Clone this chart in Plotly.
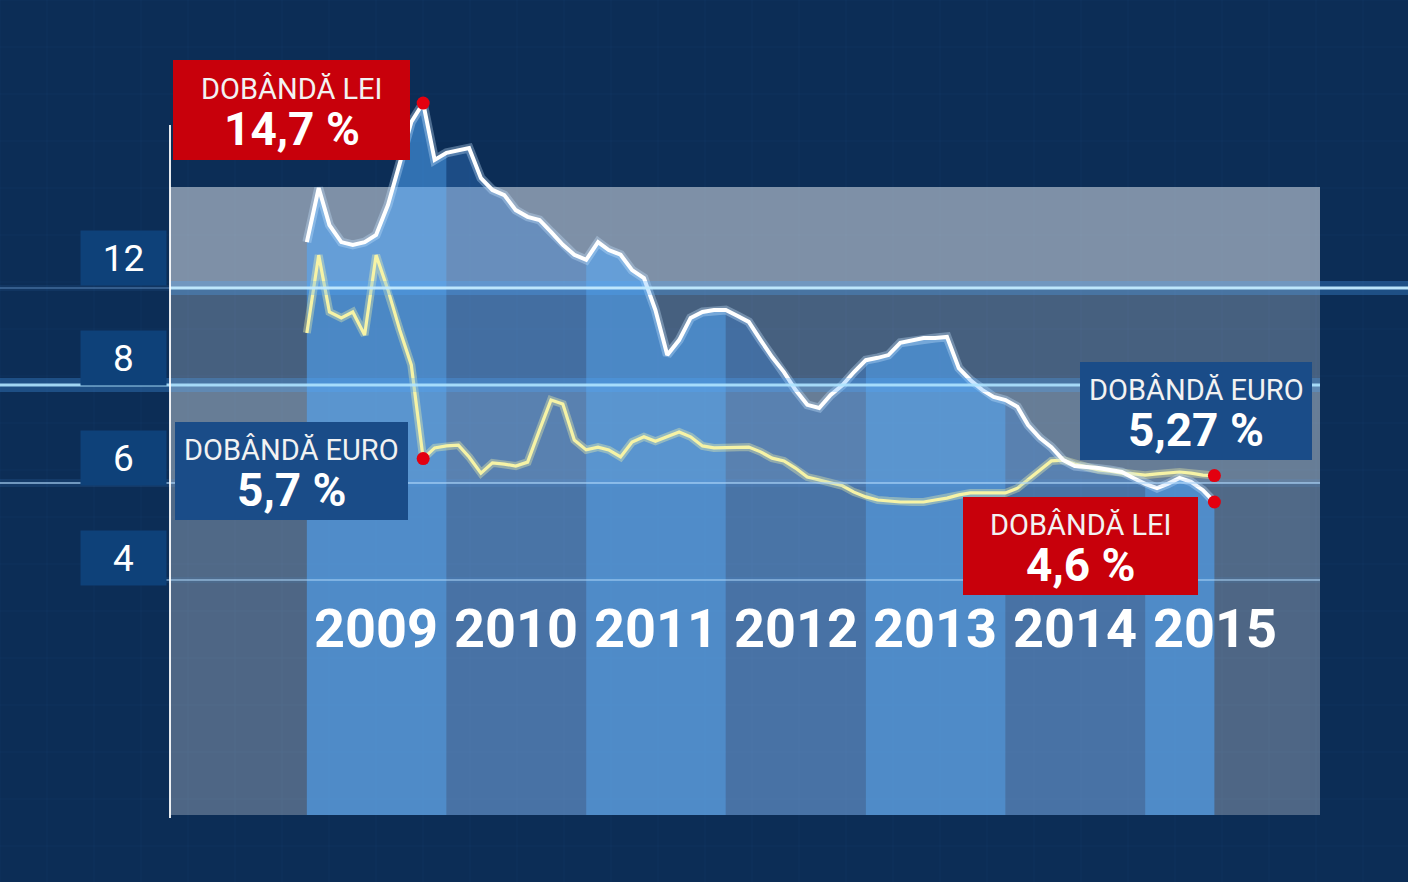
import plotly.graph_objects as go

W, H = 1408, 882

# ---------------- data ----------------
MONTHS = [f"{y}-{m:02d}-01" for y in range(2009, 2016) for m in range(1, 13)][:79]

LEI = [11.18, 12.55, 11.61, 11.18, 11.11, 11.18, 11.36, 12.12, 13.18, 14.22,
       14.70, 13.26, 13.44, 13.51, 13.56, 12.80, 12.50, 12.37, 11.99, 11.82,
       11.74, 11.44, 11.11, 10.86, 10.73, 11.18, 10.98, 10.86, 10.47, 10.27,
       9.46, 8.32, 8.70, 9.26, 9.41, 9.46, 9.46, 9.31, 9.16, 8.70,
       8.27, 7.89, 7.44, 7.06, 6.98, 7.31, 7.56, 7.89, 8.19, 8.25,
       8.32, 8.63, 8.68, 8.75, 8.75, 8.78, 7.99, 7.69, 7.44, 7.26,
       7.18, 7.01, 6.55, 6.22, 5.99, 5.66, 5.51, 5.49, 5.46, 5.41,
       5.36, 5.21, 5.06, 4.95, 5.06, 5.21, 5.11, 4.90, 4.60]

EURO = [8.88, 10.85, 9.41, 9.26, 9.41, 8.83, 10.85, 9.97, 8.95, 8.07,
        5.70, 5.97, 6.02, 6.04, 5.74, 5.33, 5.59, 5.56, 5.51, 5.61,
        6.42, 7.18, 7.08, 6.17, 5.92, 5.99, 5.92, 5.74, 6.12, 6.25,
        6.14, 6.25, 6.37, 6.25, 6.02, 5.97, 5.97, 5.99, 5.99, 5.87,
        5.71, 5.64, 5.46, 5.23, 5.16, 5.08, 5.01, 4.85, 4.73, 4.65,
        4.63, 4.60, 4.60, 4.60, 4.65, 4.70, 4.78, 4.83, 4.83, 4.83,
        4.83, 4.95, 5.16, 5.41, 5.64, 5.66, 5.56, 5.49, 5.41, 5.38,
        5.33, 5.31, 5.28, 5.31, 5.33, 5.36, 5.33, 5.28, 5.27]

YEARS = ["2009", "2010", "2011", "2012", "2013", "2014", "2015"]
Y_TICK_LABELS = ["12", "8", "6", "4"]

CALLOUT_TITLES = ["DOBÂNDĂ LEI", "DOBÂNDĂ EURO", "DOBÂNDĂ EURO", "DOBÂNDĂ LEI"]
CALLOUT_SERIES = ["lei", "euro", "euro", "lei"]
CALLOUT_INDEX = [10, 10, 78, 78]

# ---------------- layout constants ----------------
X_RANGE = ["2006-10-22", "2016-11-18"]
Y_RANGE = [-5.02, 17.309]
PANEL = (170, 187, 1320, 815)  # left, top, right, bottom in px
BANDS = [(187, 288, 0.50), (288, 385, 0.26), (385, 483, 0.40), (483, 580, 0.30), (580, 815, 0.29)]
BOXES = [(173, 60, 410, 160), (175, 422, 408, 520), (1080, 362, 1312, 460), (963, 497, 1198, 595)]
BOX_COLORS = ["#c8000b", "#1a4c88", "#1a4c88", "#c8000b"]
BRIGHT_COL = "rgba(80,170,255,0.55)"
DARK_COL = "rgba(60,140,230,0.33)"
FONT = "Roboto, 'Open Sans', Arial, sans-serif"


def pxx(x):
    return x / W


def pxy(y):
    return 1 - y / H


def val_at_py(y):
    return Y_RANGE[1] - y / H * (Y_RANGE[1] - Y_RANGE[0])


BASE = val_at_py(PANEL[3])

fig = go.Figure()

# --- column fills under the LEI curve, one per year ---
for k, yr in enumerate(YEARS):
    idx = [i for i, d in enumerate(MONTHS) if d.startswith(yr)]
    nxt = idx[-1] + 1
    if nxt < len(MONTHS):
        idx.append(nxt)
    xs = [MONTHS[i] for i in idx]
    ys = [LEI[i] for i in idx]
    fig.add_trace(go.Scatter(
        x=xs + [xs[-1], xs[0]], y=ys + [BASE, BASE],
        mode="lines", fill="toself", line=dict(width=0),
        fillcolor=BRIGHT_COL if k % 2 == 0 else DARK_COL,
        hoverinfo="skip", showlegend=False))

# --- data lines (halo + core) ---
fig.add_trace(go.Scatter(x=MONTHS, y=EURO, mode="lines",
                         line=dict(color="rgba(250,250,170,0.35)", width=8),
                         hoverinfo="skip", showlegend=False))
fig.add_trace(go.Scatter(x=MONTHS, y=EURO, mode="lines", name="Dobândă euro",
                         line=dict(color="#f6f3a6", width=3.2), showlegend=False))
fig.add_trace(go.Scatter(x=MONTHS, y=LEI, mode="lines",
                         line=dict(color="rgba(200,230,255,0.35)", width=9),
                         hoverinfo="skip", showlegend=False))
fig.add_trace(go.Scatter(x=MONTHS, y=LEI, mode="lines", name="Dobândă lei",
                         line=dict(color="#ffffff", width=4), showlegend=False))

shapes = []
# faint background grid
for gx in range(0, W, 47):
    shapes.append(dict(type="line", xref="paper", yref="paper", x0=pxx(gx), x1=pxx(gx), y0=0, y1=1,
                       line=dict(color="rgba(120,170,230,0.045)", width=1), layer="below"))
for gy in range(0, H, 47):
    shapes.append(dict(type="line", xref="paper", yref="paper", x0=0, x1=1, y0=pxy(gy), y1=pxy(gy),
                       line=dict(color="rgba(120,170,230,0.045)", width=1), layer="below"))
# panel bands
for (t, b, a) in BANDS:
    shapes.append(dict(type="rect", xref="paper", yref="paper",
                       x0=pxx(PANEL[0]), x1=pxx(PANEL[2]), y0=pxy(b), y1=pxy(t),
                       fillcolor=f"rgba(240,244,248,{a})", line=dict(width=0), layer="below"))


# glow lines
def glow(x0, x1, y, core, cw, halo, hw):
    shapes.append(dict(type="line", xref="paper", yref="paper", x0=pxx(x0), x1=pxx(x1),
                       y0=pxy(y), y1=pxy(y), line=dict(color=halo, width=hw), layer="above"))
    shapes.append(dict(type="line", xref="paper", yref="paper", x0=pxx(x0), x1=pxx(x1),
                       y0=pxy(y), y1=pxy(y), line=dict(color=core, width=cw), layer="above"))


glow(0, 170, 288, "rgba(120,170,220,0.35)", 2, "rgba(80,150,230,0.08)", 6)
glow(170, 1408, 288, "rgba(195,235,255,0.95)", 3, "rgba(80,170,255,0.28)", 14)
glow(0, 1320, 385, "rgba(175,228,255,0.9)", 3, "rgba(80,170,255,0.28)", 14)
glow(0, 1320, 483, "rgba(175,215,250,0.6)", 2, "rgba(80,160,240,0.12)", 8)
glow(82, 1320, 580, "rgba(175,215,250,0.5)", 2, "rgba(80,160,240,0.08)", 6)

# left axis line
shapes.append(dict(type="line", xref="paper", yref="paper", x0=pxx(170), x1=pxx(170),
                   y0=pxy(818), y1=pxy(125), line=dict(color="rgba(255,255,255,0.9)", width=2),
                   layer="above"))

# callout boxes
for (l, t, r, b), c in zip(BOXES, BOX_COLORS):
    shapes.append(dict(type="rect", xref="paper", yref="paper", x0=pxx(l), x1=pxx(r),
                       y0=pxy(b), y1=pxy(t), fillcolor=c, line=dict(width=0), layer="above"))

# red dots on the annotated points
for s, i in zip(CALLOUT_SERIES, CALLOUT_INDEX):
    v = LEI[i] if s == "lei" else EURO[i]
    shapes.append(dict(type="circle", xref="x", yref="y", xsizemode="pixel", ysizemode="pixel",
                       xanchor=MONTHS[i], yanchor=v, x0=-6.5, x1=6.5, y0=-6.5, y1=6.5,
                       fillcolor="#e3000f", line=dict(width=0), layer="above"))

annotations = []
# y tick label boxes
for i, lab in enumerate(Y_TICK_LABELS):
    annotations.append(dict(xref="paper", yref="paper", x=pxx(123.5), y=pxy(258 + 100 * i),
                            text=lab, showarrow=False, bgcolor="#0e4179", width=83, height=52,
                            font=dict(family=FONT, size=37, color="#ffffff"),
                            xanchor="center", yanchor="middle"))
# year labels
for yr in YEARS:
    annotations.append(dict(xref="x", yref="paper", x=f"{yr}-07-02", y=pxy(628),
                            text=f"<b>{yr}</b>", showarrow=False,
                            font=dict(family=FONT, size=54, color="#ffffff"),
                            xanchor="center", yanchor="middle"))
# callout texts
for (l, t, r, b), title, s, i in zip(BOXES, CALLOUT_TITLES, CALLOUT_SERIES, CALLOUT_INDEX):
    v = LEI[i] if s == "lei" else EURO[i]
    vtxt = f"{v:g}".replace(".", ",") + " %"
    cx = (l + r) / 2
    h = b - t
    annotations.append(dict(xref="paper", yref="paper", x=pxx(cx), y=pxy(t + 0.29 * h),
                            text=title, showarrow=False,
                            font=dict(family=FONT, size=29, color="#f2f2f2"),
                            xanchor="center", yanchor="middle"))
    annotations.append(dict(xref="paper", yref="paper", x=pxx(cx), y=pxy(t + 0.69 * h),
                            text=f"<b>{vtxt}</b>", showarrow=False,
                            font=dict(family=FONT, size=46, color="#ffffff"),
                            xanchor="center", yanchor="middle"))

fig.update_layout(
    width=W, height=H, margin=dict(l=0, r=0, t=0, b=0),
    paper_bgcolor="#0c2d56", plot_bgcolor="#0c2d56",
    xaxis=dict(range=X_RANGE, visible=False, fixedrange=True),
    yaxis=dict(range=Y_RANGE, visible=False, fixedrange=True),
    shapes=shapes, annotations=annotations, showlegend=False,
)

fig.write_html(
    "out.html",
    config={"displayModeBar": False},
    post_script="document.body.style.margin='0';document.body.style.overflow='hidden';",
)
